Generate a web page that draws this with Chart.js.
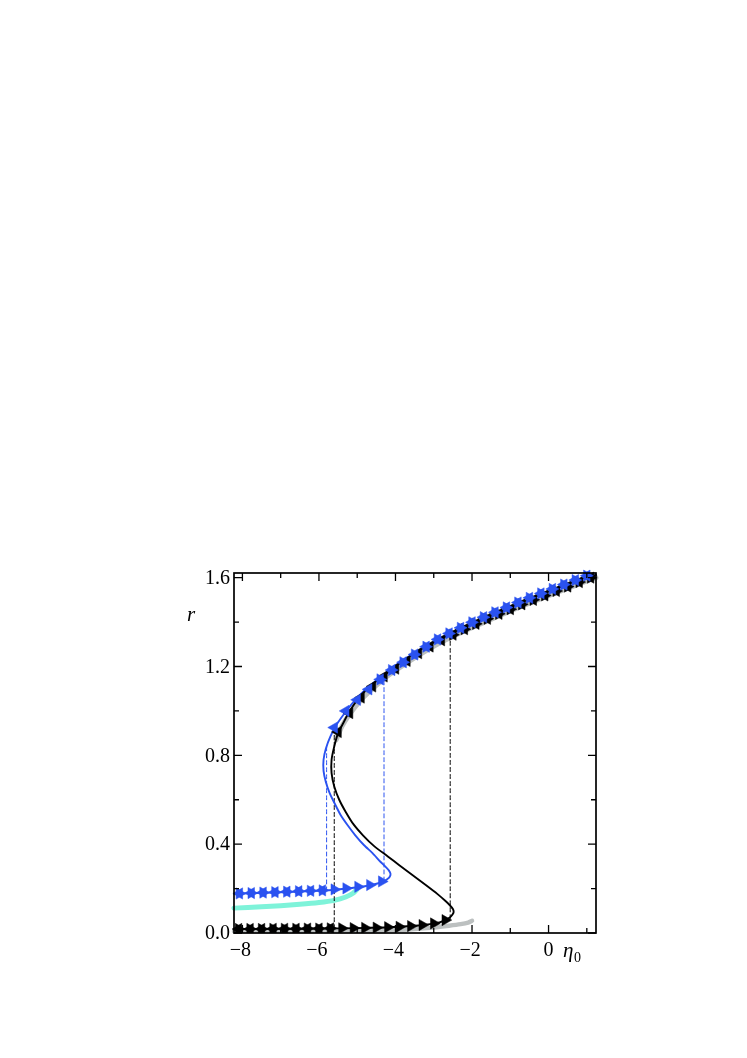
<!DOCTYPE html>
<html>
<head>
<meta charset="utf-8">
<script src="https://cdn.jsdelivr.net/npm/chart.js@4.4.1/dist/chart.umd.min.js"></script>
<style>
  html, body { margin: 0; padding: 0; background: #fff; }
  #wrap { position: relative; width: 747px; height: 1058px; }
</style>
</head>
<body>
<div id="wrap"><canvas id="c" width="747" height="1058"></canvas></div>
<script>
// ---------- tick labels ----------
const xMajorTicks = [-8, -6, -4, -2, 0];
const xMinorTicks = [-8, -7, -6, -5, -4, -3, -2, -1, 0, 1];
const yMajorTicks = [0.0, 0.4, 0.8, 1.2, 1.6];
const yMinorTicks = [0.2, 0.6, 1.0, 1.4];
const xAxisLabel = 'η';
const xAxisSub = '0';
const yAxisLabel = 'r';

// ---------- solid S-curves ----------
const blackCurveEta = [-8.22, -7, -6, -5, -4.3, -3.8, -3.4, -3.1, -2.85, -2.7, -2.58, -2.51, -2.48, -2.5, -2.58, -2.7, -2.9, -3.2, -3.55, -3.9, -4.2, -4.55, -4.85, -5.1, -5.3, -5.47, -5.6, -5.67, -5.67, -5.6, -5.5, -5.35, -5.2, -4.9, -4.6, -4.3, -4.0, -3.4, -2.8, -2.2, -1.6, -1.0, -0.4, 0.2, 0.8, 1.24];
const blackCurveR   = [0.018, 0.019, 0.02, 0.022, 0.025, 0.029, 0.034, 0.04, 0.048, 0.058, 0.07, 0.083, 0.095, 0.108, 0.125, 0.145, 0.175, 0.215, 0.26, 0.305, 0.345, 0.39, 0.44, 0.49, 0.545, 0.6, 0.66, 0.72, 0.78, 0.84, 0.9, 0.95, 1.0, 1.07, 1.12, 1.16, 1.2, 1.27, 1.325, 1.375, 1.42, 1.465, 1.51, 1.55, 1.59, 1.612];

const blueCurveEta = [-8.22, -7, -6, -5.5, -5, -4.7, -4.45, -4.31, -4.21, -4.15, -4.13, -4.17, -4.26, -4.4, -4.6, -4.82, -5.05, -5.25, -5.43, -5.58, -5.72, -5.82, -5.88, -5.88, -5.82, -5.7, -5.55, -5.35, -5.1, -4.85, -4.55, -4.25, -4.0, -3.4, -2.8, -2.2, -1.6, -1.0, -0.4, 0.2, 0.8, 1.24];
const blueCurveR   = [0.177, 0.183, 0.19, 0.196, 0.206, 0.214, 0.224, 0.233, 0.243, 0.253, 0.266, 0.281, 0.298, 0.322, 0.36, 0.395, 0.44, 0.485, 0.53, 0.58, 0.63, 0.68, 0.73, 0.78, 0.83, 0.885, 0.935, 0.985, 1.04, 1.085, 1.13, 1.17, 1.205, 1.272, 1.33, 1.38, 1.424, 1.468, 1.512, 1.552, 1.592, 1.614];

// ---------- thick reference curves ----------
const cyanEta = [-8.22, -7.5, -7, -6.5, -6, -5.6, -5.3, -5.1, -5.0];
const cyanR   = [0.112, 0.118, 0.123, 0.129, 0.137, 0.147, 0.162, 0.18, 0.198];
const greyLowEta = [-8.22, -5, -4, -3.5, -3, -2.6, -2.3, -2.1, -2.0];
const greyLowR   = [0.008, 0.01, 0.013, 0.018, 0.025, 0.033, 0.04, 0.047, 0.055];
const greyUpEta = [-5.55, -5.4, -5.2, -4.9, -4.6, -4.3, -4.0, -3.4, -2.8, -2.2, -1.6, -1.0, -0.4, 0.2, 0.8, 1.24];
const greyUpR   = [0.87, 0.93, 0.985, 1.05, 1.10, 1.145, 1.182, 1.25, 1.31, 1.36, 1.405, 1.45, 1.492, 1.532, 1.572, 1.6];

// ---------- markers (sweeps) ----------
// black, forward sweep (right-pointing)
const blackFwdEta = [-8.1, -7.8, -7.5, -7.2, -6.9, -6.6, -6.3, -6.0, -5.7, -5.4, -5.1, -4.8, -4.5, -4.2, -3.9, -3.6, -3.3, -3.0, -2.7,
                     -2.5, -2.2, -1.9, -1.6, -1.3, -1.0, -0.7, -0.4, -0.1, 0.2, 0.5, 0.8, 1.1];
const blackFwdR   = [0.018, 0.018, 0.018, 0.019, 0.019, 0.019, 0.02, 0.02, 0.021, 0.021, 0.022, 0.023, 0.024, 0.026, 0.028, 0.031, 0.036, 0.043, 0.058,
                     1.343, 1.368, 1.392, 1.415, 1.437, 1.458, 1.48, 1.5, 1.52, 1.54, 1.56, 1.58, 1.6];
// black, backward sweep (left-pointing)
const blackBwdEta = [1.1, 0.8, 0.5, 0.2, -0.1, -0.4, -0.7, -1.0, -1.3, -1.6, -1.9, -2.2, -2.5, -2.8, -3.1, -3.4, -3.7, -4.0, -4.3, -4.6, -4.9, -5.2, -5.5,
                     -5.7, -6.0, -6.3, -6.6, -6.9, -7.2, -7.5, -7.8, -8.1];
const blackBwdR   = [1.6, 1.58, 1.56, 1.54, 1.52, 1.5, 1.48, 1.458, 1.437, 1.415, 1.392, 1.368, 1.343, 1.318, 1.29, 1.26, 1.225, 1.19, 1.155, 1.11, 1.06, 0.99, 0.905,
                     0.021, 0.02, 0.02, 0.019, 0.019, 0.019, 0.018, 0.018, 0.018];
// blue, forward sweep (right-pointing)
const blueFwdEta = [-8.08, -7.77, -7.46, -7.15, -6.84, -6.53, -6.22, -5.91, -5.6, -5.29, -4.98, -4.67, -4.36,
                    -4.4, -4.1, -3.8, -3.5, -3.2, -2.9, -2.6, -2.3, -2.0, -1.7, -1.4, -1.1, -0.8, -0.5, -0.2, 0.1, 0.4, 0.7, 1.0];
const blueFwdR   = [0.178, 0.18, 0.182, 0.184, 0.186, 0.188, 0.19, 0.192, 0.196, 0.201, 0.208, 0.216, 0.232,
                    1.142, 1.184, 1.219, 1.254, 1.289, 1.322, 1.349, 1.374, 1.399, 1.422, 1.444, 1.466, 1.488, 1.509, 1.529, 1.549, 1.569, 1.589, 1.609];
// blue, backward sweep (left-pointing)
const blueBwdEta = [1.0, 0.7, 0.4, 0.1, -0.2, -0.5, -0.8, -1.1, -1.4, -1.7, -2.0, -2.3, -2.6, -2.9, -3.2, -3.5, -3.8, -4.1, -4.4, -4.7, -5.0, -5.3, -5.6,
                    -5.91, -6.22, -6.53, -6.84, -7.15, -7.46, -7.77, -8.08];
const blueBwdR   = [1.609, 1.589, 1.569, 1.549, 1.529, 1.509, 1.488, 1.466, 1.444, 1.422, 1.399, 1.374, 1.349, 1.322, 1.289, 1.254, 1.219, 1.184, 1.142, 1.097, 1.05, 1.0, 0.925,
                    0.192, 0.19, 0.188, 0.186, 0.184, 0.182, 0.18, 0.178];

// ---------- dashed jump lines ----------
const blackJumpUpEta = [-2.57, -2.57];   const blackJumpUpR = [0.065, 1.335];
const blackJumpDownEta = [-5.6, -5.6];   const blackJumpDownR = [0.02, 0.91];
const blueJumpUpEta = [-4.3, -4.3];      const blueJumpUpR = [0.235, 1.157];
const blueJumpDownEta = [-5.8, -5.8];    const blueJumpDownR = [0.19, 0.85];

// ---------- colours ----------
const BLUE = '#2a52f0';
const BLACK = '#000000';
const CYAN = '#7ef3d9';
const GREY = '#bcc0c0';

const zip = (xs, ys) => xs.map((v, i) => ({ x: v, y: ys[i] }));

function lineDS(xs, ys, color, width, order, dash) {
  return { data: zip(xs, ys), showLine: true, borderColor: color, borderWidth: width,
           pointRadius: 0, tension: 0.2, fill: false, order: order, borderDash: dash || [],
           borderCapStyle: 'round', clip: 4 };
}
function markerDS(xs, ys, color, rot, order) {
  return { data: zip(xs, ys), showLine: false, pointStyle: 'triangle', rotation: rot,
           pointRadius: 6.5, backgroundColor: color, borderColor: color, borderWidth: 0.5,
           order: order, clip: { left: 8, top: 8, right: 8, bottom: 0 } };
}

const xMin = -8.22, xMax = 1.24, yMin = 0, yMax = 1.621;

const frame = {
  id: 'frame',
  afterDraw(chart) {
    const { ctx, chartArea: a, scales } = chart;
    const xs = scales.x, ys = scales.y;
    ctx.save();
    ctx.strokeStyle = '#000';
    ctx.lineWidth = 1.7;
    ctx.strokeRect(a.left, a.top, a.right - a.left, a.bottom - a.top);
    ctx.lineWidth = 1.3;
    const majL = 8, minL = 5;
    ctx.beginPath();
    xMinorTicks.forEach(v => {
      const px = xs.getPixelForValue(v);
      const L = xMajorTicks.includes(v) ? majL : minL;
      ctx.moveTo(px, a.bottom); ctx.lineTo(px, a.bottom - L);
      ctx.moveTo(px, a.top); ctx.lineTo(px, a.top + L);
    });
    yMajorTicks.concat(yMinorTicks).forEach(v => {
      const py = ys.getPixelForValue(v);
      const L = yMajorTicks.includes(v) ? majL : minL;
      ctx.moveTo(a.left, py); ctx.lineTo(a.left + L, py);
      ctx.moveTo(a.right, py); ctx.lineTo(a.right - L, py);
    });
    ctx.stroke();

    ctx.fillStyle = '#000';
    ctx.font = '20px "Liberation Serif", "DejaVu Serif", serif';
    ctx.textAlign = 'center';
    ctx.textBaseline = 'middle';
    xMajorTicks.forEach(v => {
      const t = v < 0 ? '\u2212' + Math.abs(v) : String(v);
      ctx.fillText(t, xs.getPixelForValue(v) - (v < 0 ? 2 : 0), a.bottom + 18);
    });
    ctx.textAlign = 'right';
    yMajorTicks.forEach(v => {
      ctx.fillText(v.toFixed(1), a.left - 4, ys.getPixelForValue(v) + 1);
    });
    ctx.font = 'italic 21px "Liberation Serif", "DejaVu Serif", serif';
    ctx.textAlign = 'left';
    ctx.fillText(yAxisLabel, 187, 615);
    ctx.fillText(xAxisLabel, 563, 951);
    ctx.font = '14px "Liberation Serif", "DejaVu Serif", serif';
    ctx.fillText(xAxisSub, 574, 958);
    ctx.restore();
  }
};

new Chart(document.getElementById('c'), {
  type: 'scatter',
  data: {
    datasets: [
      markerDS(blueFwdEta, blueFwdR, BLUE, 90, 1),
      markerDS(blueBwdEta, blueBwdR, BLUE, -90, 2),
      markerDS(blackBwdEta, blackBwdR, BLACK, -90, 3),
      markerDS(blackFwdEta, blackFwdR, BLACK, 90, 4),
      lineDS(blackCurveEta, blackCurveR, BLACK, 1.9, 5),
      lineDS(blueCurveEta, blueCurveR, BLUE, 1.9, 6),
      lineDS(blackJumpUpEta, blackJumpUpR, BLACK, 1, 7, [4, 3]),
      lineDS(blackJumpDownEta, blackJumpDownR, BLACK, 1, 7, [4, 3]),
      lineDS(blueJumpUpEta, blueJumpUpR, BLUE, 1, 7, [4, 3]),
      lineDS(blueJumpDownEta, blueJumpDownR, BLUE, 1, 7, [4, 3]),
      lineDS(cyanEta, cyanR, CYAN, 5, 8),
      lineDS(greyLowEta, greyLowR, GREY, 4.5, 9),
      lineDS(greyUpEta, greyUpR, GREY, 5, 9)
    ]
  },
  options: {
    responsive: false,
    animation: false,
    devicePixelRatio: 1,
    layout: { padding: { left: 234, right: 151, top: 573, bottom: 125 } },
    plugins: { legend: { display: false }, tooltip: { enabled: false } },
    scales: {
      x: { type: 'linear', min: xMin, max: xMax, display: false },
      y: { type: 'linear', min: yMin, max: yMax, display: false }
    }
  },
  plugins: [frame]
});
</script>
</body>
</html>
